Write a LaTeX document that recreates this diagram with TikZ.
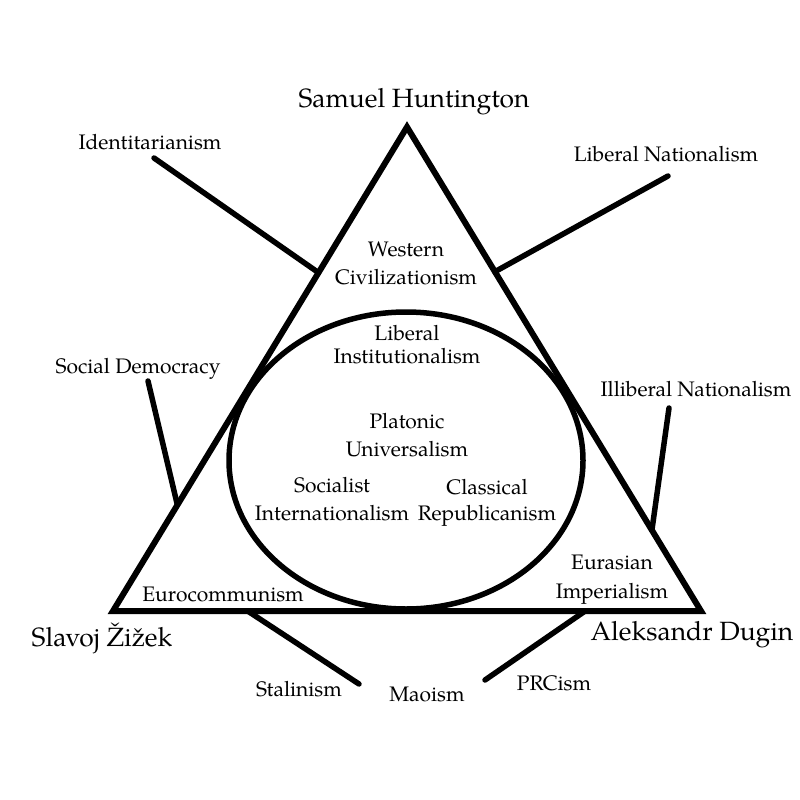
\documentclass[tikz,border=0pt]{standalone}
\usepackage{fontspec}
\setmainfont{TeX Gyre Pagella}
\usetikzlibrary{calc}
\begin{document}
\begin{tikzpicture}[x=1pt,y=-1pt,
  lab/.style={font=\fontsize{21}{28}\selectfont, align=center, anchor=base, inner sep=0pt},
  big/.style={font=\fontsize{26.4}{30}\selectfont, anchor=base, inner sep=0pt},
  frame/.style={line width=6pt, line join=miter},
  conn/.style={line width=5.5pt, line cap=round}]
\useasboundingbox (0,0) rectangle (800,800);
\fill[white] (0,0) rectangle (800,800);
% triangle
\coordinate (T) at (407,127);
\coordinate (L) at (113,611);
\coordinate (R) at (701,611);
\draw[frame] (T) -- (L) -- (R) -- cycle;
% ellipse
\draw[line width=5.5pt] (406,460.5) ellipse [x radius=177, y radius=148.5];
% labels (multi-line nodes are placed at the baseline of their last line)
\node[big] (hunt) at (414,107) {Samuel Huntington};
\node[big] (zizek) at (102,646) {Slavoj Žižek};
\node[big] (dugin) at (692,640) {Aleksandr Dugin};
\node[lab] (ident) at (150,149) {Identitarianism};
\node[lab] (libnat) at (666,161) {Liberal Nationalism};
\node[lab] (west) at (406,284) {Western\\Civilizationism};
\node[lab, font=\fontsize{21}{23}\selectfont] (libinst) at (407,363) {Liberal\\Institutionalism};
\node[lab] (socdem) at (138,373) {Social Democracy};
\node[lab] (illib) at (696,396) {Illiberal Nationalism};
\node[lab] (plat) at (407,456) {Platonic\\Universalism};
\node[lab] (soc) at (332,520) {Socialist\\Internationalism};
\node[lab, font=\fontsize{21}{26}\selectfont] (class) at (487,520) {Classical\\Republicanism};
\node[lab, font=\fontsize{21}{29}\selectfont] (eura) at (612,598) {Eurasian\\Imperialism};
\node[lab] (euro) at (223,601) {Eurocommunism};
\node[lab] (stal) at (299,696) {Stalinism};
\node[lab] (mao) at (427,701) {Maoism};
\node[lab] (prc) at (554,690) {PRCism};
% connector ends
\coordinate (identEnd) at (154,158);
\coordinate (libnatEnd) at (668,176);
\coordinate (socdemEnd) at (148,381);
\coordinate (illibEnd) at (669,408);
\coordinate (stalEnd) at (359,684);
\coordinate (prcEnd) at (485,680);
\coordinate (identOn) at ($(T)!0.301!(L)$);
\coordinate (libnatOn) at ($(T)!0.299!(R)$);
\coordinate (socdemOn) at ($(T)!0.781!(L)$);
\coordinate (illibOn) at ($(T)!0.833!(R)$);
\coordinate (stalOn) at ($(L)!0.229!(R)$);
\coordinate (prcOn) at ($(L)!0.803!(R)$);
\draw[conn] (identEnd) -- (identOn);
\draw[conn] (libnatEnd) -- (libnatOn);
\draw[conn] (socdemEnd) -- (socdemOn);
\draw[conn] (illibEnd) -- (illibOn);
\draw[conn] (stalOn) -- (stalEnd);
\draw[conn] (prcOn) -- (prcEnd);
\end{tikzpicture}
\end{document}
